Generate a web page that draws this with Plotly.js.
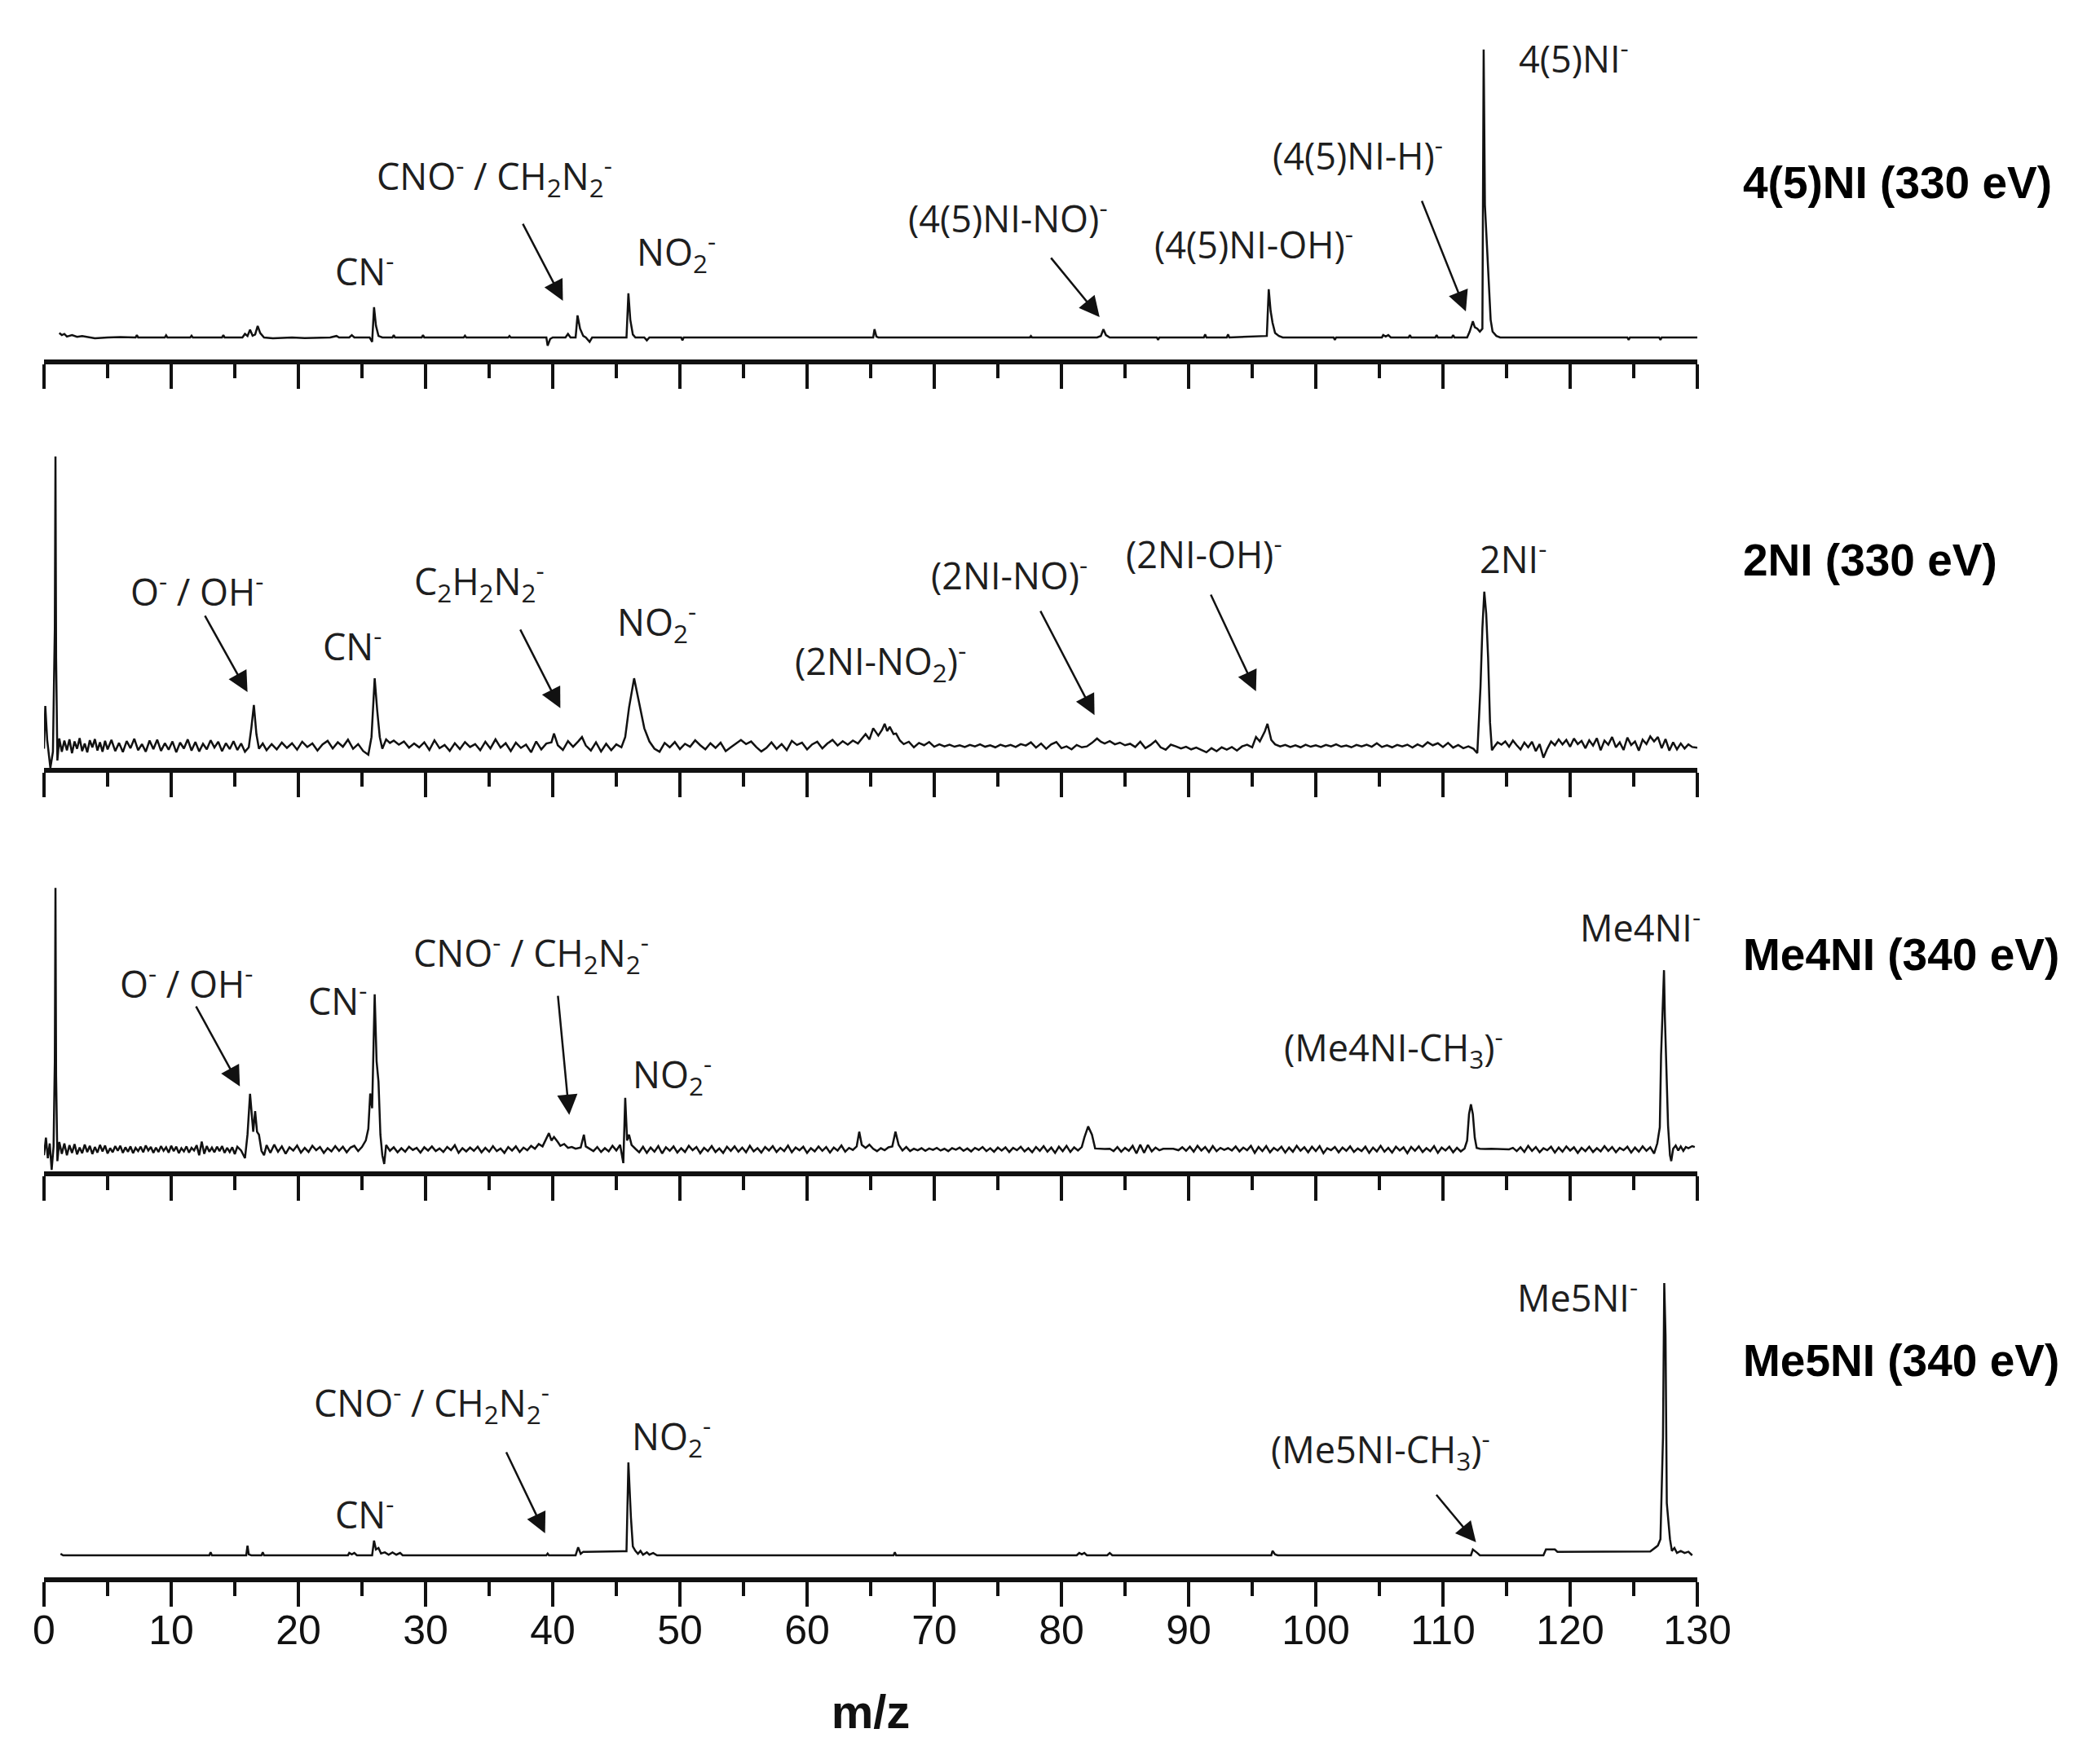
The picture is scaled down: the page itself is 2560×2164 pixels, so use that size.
<!DOCTYPE html>
<html>
<head>
<meta charset="utf-8">
<script src="https://cdn.plot.ly/plotly-3.0.1.min.js"></script>
<style>
  body { margin: 0; background: #fff; }
  #chart { width: 2560px; height: 2164px; }
</style>
</head>
<body>
<div id="chart"></div>
<script>
// spectra as [m/z, intensity] (baseline = 0, strongest peak ~ 100)
var spec45NI = [
  [1.2,1.5],[1.4,0.8],[1.6,1.2],[1.8,0.3],[2.2,0.8],[2.6,0.2],[3.0,0.5],[3.5,0],[4.0,-0.3],[5.0,0],[6.0,0.1],
  [7.2,0],[7.3,0.8],[7.4,0],[9.5,0],[9.6,0.7],[9.7,0],[11.5,0],[11.6,0.6],[11.7,0],[14.0,0],[14.1,0.8],[14.2,0],
  [15.6,0],[15.8,1.2],[16.0,0.5],[16.2,2.6],[16.4,0.6],[16.6,1],[16.8,3.9],[17.0,1.5],[17.3,0],[18.0,-0.3],
  [19.5,0],[20.5,-0.2],[22.5,0],[23.0,0.5],[23.2,0],[24.0,0],[24.2,0.8],[24.4,0],[25.6,0],[25.8,-1.5],
  [25.95,10.3],[26.1,4],[26.3,0.5],[26.6,0],[27.4,0],[27.5,0.8],[27.6,0],[29.7,0],[29.8,0.8],[29.9,0],
  [33.0,0],[33.1,0.6],[33.2,0],[36.5,0],[36.6,0.5],[36.7,0],[39.5,0],[39.6,-2.8],[39.8,-0.5],[40.0,0],
  [41.0,0],[41.2,1.2],[41.4,0],[41.8,0],[41.95,7.5],[42.15,3],[42.4,0.5],[42.6,0],[42.9,-1.5],[43.1,0],
  [45.8,0],[45.95,15],[46.1,6],[46.3,1],[46.5,0],[47.2,0],[47.4,-1],[47.6,0],[50.1,0],[50.2,-1],[50.3,0],
  [65.2,0],[65.3,2.8],[65.45,0.3],[65.6,0],[77.5,0],[77.6,0.5],[77.7,0],[82.8,0],[83.1,0.5],[83.3,2.8],
  [83.5,0.8],[83.8,0],[87.5,0],[87.6,-0.8],[87.7,0],[91.2,0],[91.3,1],[91.4,0],[93.0,0],[93.1,1],[93.2,0],
  [96.15,0.5],[96.3,16.4],[96.45,9],[96.6,5],[96.8,1.5],[97.1,0.5],[97.4,0],[101.4,0],[101.5,-0.8],[101.6,0],
  [105.2,0],[105.3,0.8],[105.5,0.3],[105.7,0.8],[105.9,0],[107.3,0],[107.4,0.8],[107.5,0],[109.4,0],
  [109.5,0.8],[109.6,0],[110.7,0],[110.8,0.8],[110.9,0],[111.9,0],[112.1,2],[112.35,5.5],[112.5,3.5],
  [112.7,3],[112.9,2],[113.1,3],[113.2,98],[113.3,45],[113.45,32],[113.6,20],[113.75,6],[113.9,2],
  [114.2,0.5],[114.5,0],[124.5,0],[124.6,-0.8],[124.7,0],[127.0,0],[127.1,-0.8],[127.2,0],[130,0]
];

var spec2NI = [
  [0.0,-1],[0.1,13.6],[0.25,2],[0.4,-4],[0.5,-7.5],[0.7,-2],[0.85,40],[0.9,98.5],[0.95,30],[1.05,-5],
  [1.2,2.5],[1.4,-2],[1.6,1.8],[1.8,-1.5],[2.0,2.2],[2.2,-2.5],[2.4,1.5],[2.6,-1],[2.8,2.6],[3.0,-1.8],
  [3.2,0.8],[3.4,-2.2],[3.6,1.9],[3.8,-0.5],[4.0,2.3],[4.2,-1.6],[4.4,1.2],[4.6,-2],[4.8,1.7],[5.0,-1.2],
  [5.3,2],[5.6,-1.8],[5.9,1],[6.2,-2.1],[6.5,1.6],[6.8,-0.8],[7.1,2.4],[7.4,-1.5],[7.7,0.6],[8.0,-2],
  [8.3,1.8],[8.6,-1.1],[8.9,2.1],[9.2,-1.7],[9.5,0.9],[9.8,-1.3],[10.1,1.5],[10.4,-2.2],[10.7,1.1],[11.0,-0.9],
  [11.3,2.2],[11.6,-1.6],[11.9,1.3],[12.2,-1.9],[12.5,0.7],[12.8,-1.2],[13.1,1.9],[13.4,-0.6],[13.7,1.4],
  [14.0,-1.8],[14.3,0.9],[14.6,-1.1],[14.9,1.6],[15.2,-1.4],[15.5,0.8],[15.8,-2],[16.1,-0.5],[16.3,6],
  [16.5,13.9],[16.7,4],[16.9,-1],[17.2,0.8],[17.5,-1.5],[17.9,0.6],[18.3,-1.2],[18.7,1.1],[19.1,-0.7],
  [19.5,0.9],[19.9,-1.3],[20.3,1.4],[20.7,-0.4],[21.1,0.8],[21.5,-1.6],[21.9,0.5],[22.3,1.7],[22.7,-0.9],
  [23.1,1.2],[23.5,-0.3],[23.9,2.1],[24.3,-1],[24.7,0.6],[25.1,-1.8],[25.5,-3],[25.75,3],[26.0,23],
  [26.2,12],[26.4,3],[26.6,-1],[26.9,2.2],[27.2,1],[27.5,1.8],[27.9,0.4],[28.3,1.5],[28.7,-0.6],[29.1,0.8],
  [29.5,-0.5],[29.9,1.2],[30.3,-1.4],[30.7,1.9],[31.1,-0.8],[31.5,0.3],[31.9,-1.7],[32.3,0.9],[32.7,-1.1],
  [33.1,1.3],[33.5,-0.4],[33.9,0.6],[34.3,-1.5],[34.7,1.4],[35.1,-0.9],[35.5,2.2],[35.9,-0.6],[36.3,0.9],
  [36.7,-1.8],[37.1,1.1],[37.5,-0.7],[37.9,0.4],[38.3,-2.2],[38.7,1.5],[39.1,-1.2],[39.5,0.8],[39.9,1.2],
  [40.1,4.2],[40.4,0.2],[40.8,-1.4],[41.2,1.6],[41.6,-0.3],[42.0,1.5],[42.3,3],[42.6,0.1],[43.0,-1.6],
  [43.4,1.2],[43.8,-1.9],[44.2,0.7],[44.6,-1.5],[45.0,0.5],[45.4,-0.5],[45.7,3],[46.0,13],[46.4,23],
  [46.8,14],[47.2,6],[47.6,1.5],[48.0,-1],[48.4,-2],[48.8,1],[49.2,-0.5],[49.6,1.3],[50.0,-1.1],[50.4,0.7],
  [50.8,-0.3],[51.2,1.9],[51.6,0.2],[52.0,-1.2],[52.4,0.9],[52.8,-0.7],[53.2,1.1],[53.6,-1.8],[54.0,-0.5],
  [54.4,0.8],[54.8,2],[55.2,0.6],[55.6,1.5],[56.0,-0.4],[56.4,-1.9],[56.8,-0.7],[57.2,1.2],[57.6,-1],
  [58.0,0.6],[58.4,-1.5],[58.8,1.7],[59.2,0.3],[59.6,1.1],[60.0,-1.2],[60.4,0.5],[60.8,1.4],[61.2,-0.9],
  [61.6,0.8],[62.0,2],[62.4,0.1],[62.8,1.6],[63.2,0.4],[63.6,1.8],[64.0,0.8],[64.3,2.5],[64.6,4],[64.9,2.2],
  [65.2,6],[65.6,3.5],[65.9,5.5],[66.1,7.5],[66.3,5],[66.5,6.5],[66.8,4],[67.0,4.2],[67.3,1.8],[67.6,0.6],
  [68.0,1.4],[68.4,-0.5],[68.8,1],[69.2,0.2],[69.6,1.3],[70.0,-0.3],[70.4,0.5],[70.8,-0.2],[71.2,0.4],
  [71.6,-0.3],[72.0,0.2],[72.4,-0.4],[72.8,0.3],[73.2,-0.2],[73.6,0.5],[74.0,-0.3],[74.4,0.2],[74.8,-0.5],
  [75.2,0.4],[75.6,-0.2],[76.0,0.3],[76.4,-0.4],[76.8,0.6],[77.2,0.1],[77.6,1.2],[78.0,-0.6],[78.4,0.8],
  [78.8,-1],[79.2,0.5],[79.6,1.3],[80.0,-0.8],[80.4,-0.2],[80.8,-1.2],[81.2,0.3],[81.6,-0.5],[82.0,-0.2],
  [82.4,1],[82.8,2.5],[83.1,1.4],[83.4,0.8],[83.8,1.6],[84.2,0.5],[84.6,1.1],[85.0,0.2],[85.4,0.7],
  [85.8,-0.4],[86.2,1.4],[86.6,-0.8],[87.0,0.3],[87.4,1.7],[87.8,-0.5],[88.2,-1.3],[88.6,0.4],[89.0,-0.2],
  [89.4,-0.9],[89.8,-0.3],[90.2,-1.2],[90.6,-0.6],[91.0,-1.5],[91.4,-2.2],[91.8,-0.8],[92.2,-1.8],
  [92.6,-0.5],[93.0,-1.3],[93.4,-0.4],[93.8,-1.6],[94.2,-0.2],[94.6,0.4],[95.0,-0.5],[95.3,3],[95.6,1.5],
  [96.0,5],[96.2,7.5],[96.5,2],[96.8,0.5],[97.2,-0.2],[97.6,0.3],[98.0,-0.4],[98.4,0.2],[98.8,-0.5],
  [99.2,0.4],[99.6,-0.3],[100.0,0.2],[100.4,-0.4],[100.8,0.3],[101.2,-0.2],[101.6,0.5],[102.0,-0.3],
  [102.4,0.1],[102.8,-0.5],[103.2,0.3],[103.6,-0.2],[104.0,0.4],[104.4,-0.3],[104.8,0.9],[105.2,-0.4],
  [105.6,0.2],[106.0,-0.5],[106.4,0.3],[106.8,-0.2],[107.2,0.4],[107.6,-0.6],[108.0,0.5],[108.4,-0.3],
  [108.8,1.2],[109.2,0.2],[109.6,0.9],[110.0,-0.4],[110.4,1],[110.8,-0.6],[111.2,0.3],[111.6,-0.8],
  [112.0,-0.2],[112.4,-1],[112.7,-2.5],[112.95,20],[113.1,40],[113.25,52.5],[113.4,45],[113.55,30],
  [113.7,8],[113.85,-1.5],[114.0,-0.5],[114.3,1.2],[114.6,0.4],[114.9,1.5],[115.2,-0.3],[115.5,1.8],
  [115.8,0.2],[116.1,-1.2],[116.4,1.1],[116.7,-0.5],[117.0,1.4],[117.3,-1.8],[117.6,0.6],[117.9,-4],
  [118.2,-1],[118.5,1.5],[118.8,0.2],[119.1,2.2],[119.4,0.5],[119.7,2],[120.0,-0.3],[120.3,2.5],[120.6,0.6],
  [120.9,1.7],[121.2,-0.8],[121.5,1.9],[121.8,0.1],[122.1,2.6],[122.4,-1.5],[122.7,1.8],[123.0,0.4],
  [123.3,3],[123.6,-0.5],[123.9,1.2],[124.2,-1.4],[124.5,2.8],[124.8,0.3],[125.1,1.5],[125.4,-1.6],
  [125.7,2.1],[126.0,0.6],[126.3,3.2],[126.6,1.5],[126.9,3],[127.2,-0.8],[127.5,2.3],[127.8,-1.6],
  [128.1,1.2],[128.4,-1.2],[128.7,0.8],[129.0,-0.9],[129.3,0.5],[129.6,-0.4],[130.0,-0.6]
];

var specMe4NI = [
  [0.0,-2],[0.15,4],[0.3,-3],[0.45,2],[0.6,-7],[0.75,1],[0.85,30],[0.9,89],[0.95,25],[1.05,-4],[1.2,2.5],
  [1.4,-1.5],[1.6,2],[1.8,-2],[2.0,1.4],[2.2,-1.2],[2.4,1.8],[2.6,-1.7],[2.8,0.6],[3.0,-1.3],[3.2,1.6],
  [3.4,-0.9],[3.6,1.2],[3.8,-1.6],[4.0,0.8],[4.2,-1.1],[4.4,1.5],[4.6,-0.7],[4.8,1.3],[5.0,-1.4],[5.2,0.4],
  [5.4,-1],[5.6,1.1],[5.8,-0.5],[6.0,1.2],[6.2,-1.2],[6.4,0.7],[6.6,-0.8],[6.8,1],[7.0,-1.3],[7.2,0.5],
  [7.4,-0.6],[7.6,0.9],[7.8,-1],[8.0,1.3],[8.2,-0.4],[8.4,0.8],[8.6,-1.2],[8.8,0.6],[9.0,-0.9],[9.2,1.1],
  [9.4,-0.5],[9.6,0.7],[9.8,-1.1],[10.0,1.2],[10.2,-0.6],[10.4,0.9],[10.6,-1.3],[10.8,0.4],[11.0,-0.7],
  [11.2,1],[11.4,-1.1],[11.6,0.5],[11.8,-0.4],[12.0,1.4],[12.2,-2],[12.4,2.6],[12.6,-1.5],[12.8,1.1],
  [13.0,-0.8],[13.2,0.6],[13.4,-1],[13.6,0.9],[13.8,-0.6],[14.0,1.1],[14.2,-1.2],[14.4,0.5],[14.6,-0.9],
  [14.8,0.7],[15.0,-1.6],[15.2,0.9],[15.5,-0.4],[15.8,-3],[16.0,5],[16.2,18.9],[16.35,10],[16.45,6],
  [16.6,13],[16.75,6],[16.9,5],[17.1,-0.5],[17.3,-2],[17.5,1.4],[17.8,-1.2],[18.1,1.6],[18.4,-0.8],
  [18.7,1],[19.0,-1.5],[19.3,0.7],[19.6,-0.4],[19.9,1.3],[20.2,-1.1],[20.5,0.5],[20.8,-0.9],[21.1,1.2],
  [21.4,-0.3],[21.7,0.8],[22.0,-1.2],[22.3,0.4],[22.6,-0.7],[22.9,1.1],[23.2,-0.5],[23.5,0.9],[23.8,-1],
  [24.1,0.6],[24.4,1.2],[24.7,-0.6],[25.0,0.8],[25.3,3],[25.5,7],[25.65,19],[25.8,14],[26.0,52.8],
  [26.15,30],[26.3,23],[26.45,5],[26.6,-2],[26.75,-5],[26.9,1.5],[27.2,-0.5],[27.5,0.7],[27.8,-1],
  [28.1,0.4],[28.4,-0.8],[28.7,0.9],[29.0,-0.2],[29.3,0.5],[29.6,-1.1],[29.9,0.7],[30.2,-0.4],[30.5,1],
  [30.8,-0.6],[31.1,0.3],[31.4,-0.9],[31.7,0.8],[32.0,-0.3],[32.3,1.4],[32.6,-1.2],[32.9,0.4],[33.2,-0.7],
  [33.5,0.6],[33.8,-0.5],[34.1,0.9],[34.4,-1],[34.7,0.5],[35.0,-0.8],[35.3,1.1],[35.6,-0.6],[35.9,0.3],
  [36.2,-1.2],[36.5,0.8],[36.8,-0.4],[37.1,1],[37.4,-0.9],[37.7,0.6],[38.0,-0.3],[38.3,1.2],[38.6,0.2],
  [38.9,1.8],[39.2,1],[39.5,3.5],[39.7,5.5],[39.9,3],[40.1,4.2],[40.4,2.5],[40.6,1.2],[40.9,1.8],
  [41.2,0.5],[41.5,0.8],[41.8,0.2],[42.2,0.6],[42.45,5],[42.6,1],[42.9,0.3],[43.2,-0.6],[43.5,0.8],
  [43.8,-0.9],[44.1,0.4],[44.4,-0.7],[44.7,1.2],[45.0,-0.4],[45.3,1.5],[45.55,-4.7],[45.7,17.5],
  [45.85,3],[46.0,5],[46.2,1.5],[46.5,0.2],[46.8,-1],[47.1,0.9],[47.4,-1.2],[47.7,0.6],[48.0,-0.8],
  [48.3,1.1],[48.6,-1.4],[48.9,0.7],[49.2,-0.5],[49.5,1],[49.8,-1.1],[50.1,0.4],[50.4,-0.9],[50.7,1.2],
  [51.0,-0.3],[51.3,0.8],[51.6,-1.3],[51.9,0.5],[52.2,-0.6],[52.5,1.1],[52.8,-0.9],[53.1,0.3],[53.4,-1.2],
  [53.7,0.9],[54.0,-0.5],[54.3,1],[54.6,-0.8],[54.9,0.6],[55.2,-1],[55.5,1.2],[55.8,-0.7],[56.1,0.4],
  [56.4,-1.1],[56.7,0.8],[57.0,-0.4],[57.3,1.1],[57.6,-0.9],[57.9,0.5],[58.2,-0.6],[58.5,1.3],[58.8,-1],
  [59.1,0.6],[59.4,-0.3],[59.7,0.9],[60.0,-1.2],[60.3,0.4],[60.6,-0.7],[60.9,1],[61.2,-0.5],[61.5,0.8],
  [61.8,-1.1],[62.1,0.6],[62.4,-0.4],[62.7,1.3],[63.0,-0.8],[63.3,0.5],[63.6,-0.2],[63.9,1],[64.1,6],
  [64.3,1.5],[64.6,0.5],[64.9,1.6],[65.2,0.2],[65.5,-0.6],[65.8,0.4],[66.1,-0.3],[66.4,0.7],[66.7,1],
  [66.95,6],[67.2,1.5],[67.5,-0.4],[67.8,0.8],[68.1,-0.6],[68.4,0.2],[68.7,-0.3],[69.0,0.4],[69.3,-0.5],
  [69.6,0.3],[69.9,-0.2],[70.2,0.5],[70.5,-0.4],[70.8,0.2],[71.1,-0.6],[71.4,0.4],[71.7,-0.1],[72.0,0.6],
  [72.3,-0.5],[72.6,0.3],[72.9,-0.7],[73.2,0.5],[73.5,-0.2],[73.8,0.8],[74.1,-0.6],[74.4,0.4],[74.7,-0.8],
  [75.0,0.6],[75.3,-0.4],[75.6,0.7],[75.9,-0.9],[76.2,0.5],[76.5,-0.3],[76.8,0.9],[77.1,-0.7],[77.4,0.4],
  [77.7,-1],[78.0,0.8],[78.3,-0.5],[78.6,1.1],[78.9,-0.8],[79.2,0.6],[79.5,-1.2],[79.8,0.9],[80.1,-0.6],
  [80.4,1.2],[80.7,-0.9],[81.0,0.7],[81.3,-0.4],[81.6,0.8],[81.8,4],[82.1,7.8],[82.4,5],[82.65,0.3],
  [83.0,0.2],[83.4,0.1],[83.8,0.2],[84.1,-0.6],[84.4,0.8],[84.7,-0.8],[85.0,0.5],[85.3,-0.5],[85.6,1.2],
  [85.9,-1.4],[86.2,1.6],[86.5,-1.2],[86.8,1.5],[87.1,-0.7],[87.4,0.6],[87.7,-0.3],[88.0,0.2],[88.4,0.1],
  [88.8,0.2],[89.2,-0.3],[89.5,0.7],[89.8,-0.5],[90.1,0.9],[90.4,-0.8],[90.7,1.2],[91.0,-0.4],[91.3,0.8],
  [91.6,-0.9],[91.9,1.1],[92.2,-0.6],[92.5,0.5],[92.8,-0.2],[93.1,0.4],[93.4,-0.4],[93.7,1],[94.0,-0.7],
  [94.3,0.6],[94.6,-0.3],[94.9,1.2],[95.2,-1.2],[95.5,0.8],[95.8,-0.6],[96.1,1.1],[96.4,-1],[96.7,0.5],
  [97.0,-0.4],[97.3,0.9],[97.6,-1.1],[97.9,0.6],[98.2,-0.8],[98.5,1.2],[98.8,-0.5],[99.1,0.7],[99.4,-1],
  [99.7,0.9],[100.0,-0.6],[100.3,1.1],[100.6,-1.3],[100.9,0.4],[101.2,-0.3],[101.5,0.8],[101.8,-1],
  [102.1,0.6],[102.4,-0.5],[102.7,1],[103.0,-0.9],[103.3,0.3],[103.6,-0.6],[103.9,0.9],[104.2,-1.2],
  [104.5,0.6],[104.8,-0.7],[105.1,1.2],[105.4,-0.8],[105.7,0.5],[106.0,-1.1],[106.3,0.9],[106.6,-0.4],
  [106.9,0.7],[107.2,-1.3],[107.5,0.8],[107.8,-0.5],[108.1,1],[108.4,-0.9],[108.7,0.4],[109.0,-0.6],
  [109.3,1.1],[109.6,-1.2],[109.9,0.6],[110.2,-0.4],[110.5,0.9],[110.8,-1],[111.1,0.5],[111.4,-0.7],
  [111.7,0.3],[111.9,3],[112.05,12],[112.2,15.3],[112.35,12],[112.5,4],[112.65,0.5],[112.9,0.2],
  [113.3,0.1],[113.8,0.2],[114.3,0.1],[114.8,0.1],[115.2,0],[115.5,0.5],[115.8,-0.6],[116.1,0.7],
  [116.4,-0.9],[116.7,1.2],[117.0,-0.5],[117.3,0.8],[117.6,-1],[117.9,0.4],[118.2,-0.3],[118.5,0.9],
  [118.8,-1.1],[119.1,0.6],[119.4,-0.8],[119.7,1],[120.0,-0.4],[120.3,0.7],[120.6,-1.2],[120.9,0.5],
  [121.2,-0.6],[121.5,0.9],[121.8,-0.9],[122.1,0.4],[122.4,-0.7],[122.7,1.1],[123.0,-0.5],[123.3,0.8],
  [123.6,-1],[123.9,0.5],[124.2,-0.3],[124.5,0.9],[124.8,-1.1],[125.1,0.6],[125.4,-0.8],[125.7,1],
  [126.0,-0.5],[126.3,0.7],[126.6,-1.4],[126.85,2],[127.05,7.5],[127.15,32],[127.3,55],[127.38,61],
  [127.45,45],[127.55,30],[127.7,8],[127.85,-2],[127.95,-4],[128.1,0.2],[128.3,1.3],[128.5,-0.4],
  [128.7,1],[128.9,-0.5],[129.1,0.8],[129.3,0.4],[129.6,1.1],[129.8,0.8]
];

var specMe5NI = [
  [1.3,0.5],[1.5,0],[5.0,0],[10.0,0],[13.0,0],[13.1,1],[13.2,0],[15.9,0],[16.0,3.3],[16.1,0.3],[16.3,0],
  [17.1,0],[17.2,1],[17.3,0],[23.9,0],[24.0,0.8],[24.2,0.3],[24.4,0.8],[24.6,0],[25.8,0],[25.95,5],
  [26.1,2],[26.3,2.5],[26.5,0.6],[26.8,1],[27.1,0.2],[27.4,1],[27.7,0.2],[28.0,0.8],[28.2,0],[39.5,0],
  [39.6,0.6],[39.7,0],[41.8,0],[42.0,2.7],[42.2,0.5],[42.4,1.2],[42.6,1.2],[45.8,1.4],[45.95,31.6],
  [46.05,20],[46.15,12.8],[46.3,3],[46.5,1.5],[46.7,0.5],[46.9,1.5],[47.1,0.2],[47.4,1],[47.6,0.2],
  [47.9,0.8],[48.2,0],[66.8,0],[66.9,1],[67.0,0],[81.2,0],[81.4,0.8],[81.6,0.3],[81.8,0.8],[82.0,0],
  [83.6,0],[83.8,0.8],[84.0,0],[96.5,0],[96.6,1.5],[96.8,0.3],[97.0,0],[112.2,0],[112.35,2],[112.7,0.8],
  [112.9,0],[117.9,0],[118.1,2],[118.8,2],[119.0,1.2],[126.3,1.3],[126.9,3.3],[127.1,5.5],[127.3,40],
  [127.4,92.7],[127.5,75],[127.6,17.8],[127.7,12],[127.85,5.5],[128.0,1.5],[128.2,2.5],[128.4,0.8],
  [128.7,1.5],[129.0,0.8],[129.3,1.2],[129.6,0]
];

var panelSpectra = [spec45NI, spec2NI, specMe4NI, specMe5NI];
var panelNames = ['4(5)NI (330 eV)', '2NI (330 eV)', 'Me4NI (340 eV)', 'Me5NI (340 eV)'];
var panelNameY = [52.7, 63.3, 66.3, 66.3];

// peak labels per panel: [text, m/z, intensity]
var labels45NI = [
  ['CN<sup>-</sup>', 25.2, 23.2],
  ['CNO<sup>-</sup> / CH<sub>2</sub>N<sub>2</sub><sup>-</sup>', 35.4, 55],
  ['NO<sub>2</sub><sup>-</sup>', 49.7, 29.3],
  ['(4(5)NI-NO)<sup>-</sup>', 75.8, 41.3],
  ['(4(5)NI-OH)<sup>-</sup>', 95.1, 32.4],
  ['(4(5)NI-H)<sup>-</sup>', 103.3, 62.6],
  ['4(5)NI<sup>-</sup>', 120.3, 95.8]
];
var labels2NI = [
  ['O<sup>-</sup> / OH<sup>-</sup>', 12.0, 53.2],
  ['CN<sup>-</sup>', 24.2, 34.8],
  ['C<sub>2</sub>H<sub>2</sub>N<sub>2</sub><sup>-</sup>', 34.2, 56.2],
  ['NO<sub>2</sub><sup>-</sup>', 48.2, 42.4],
  ['(2NI-NO<sub>2</sub>)<sup>-</sup>', 65.8, 29],
  ['(2NI-NO)<sup>-</sup>', 75.9, 58.8],
  ['(2NI-OH)<sup>-</sup>', 91.2, 66],
  ['2NI<sup>-</sup>', 115.5, 64.4]
];
var labelsMe4NI = [
  ['O<sup>-</sup> / OH<sup>-</sup>', 11.2, 57.2],
  ['CN<sup>-</sup>', 23.1, 51.4],
  ['CNO<sup>-</sup> / CH<sub>2</sub>N<sub>2</sub><sup>-</sup>', 38.3, 67],
  ['NO<sub>2</sub><sup>-</sup>', 49.4, 25.8],
  ['(Me4NI-CH<sub>3</sub>)<sup>-</sup>', 106.1, 34.8],
  ['Me4NI<sup>-</sup>', 125.5, 76.4]
];
var labelsMe5NI = [
  ['CN<sup>-</sup>', 25.2, 14.8],
  ['CNO<sup>-</sup> / CH<sub>2</sub>N<sub>2</sub><sup>-</sup>', 30.5, 52],
  ['NO<sub>2</sub><sup>-</sup>', 49.3, 40.7],
  ['(Me5NI-CH<sub>3</sub>)<sup>-</sup>', 105.1, 36.2],
  ['Me5NI<sup>-</sup>', 120.6, 88.6]
];
var panelLabels = [labels45NI, labels2NI, labelsMe4NI, labelsMe5NI];

// arrows: [tail m/z, tail intensity, head m/z, head intensity]
var arrows45NI = [[37.6, 39.1, 40.8, 12.5], [79.1, 27.5, 83.0, 6.9], [108.3, 46.9, 111.8, 8.9]];
var arrows2NI = [[12.6, 44.7, 16.0, 18.3], [37.4, 40, 40.6, 12.8], [78.3, 46.3, 82.6, 10.5], [91.7, 51.9, 95.3, 18.6]];
var arrowsMe4NI = [[11.9, 49.1, 15.4, 21.4], [40.4, 52.7, 41.3, 11.7]];
var arrowsMe5NI = [[36.3, 35.5, 39.4, 7.5], [109.4, 21, 112.6, 4.4]];
var panelArrows = [arrows45NI, arrows2NI, arrowsMe4NI, arrowsMe5NI];

// layout geometry (pixels in a 2560 x 2164 page)
var W = 2560, H = 2164;
var axisPx = [441, 942, 1437, 1935];
var panelHeight = 400;
var yRange = [-7.5, 103.5];

var labelFont = { family: 'Open Sans, sans-serif', size: 45, color: '#1e1e1e' };
var nameFont = { family: 'Liberation Sans, Arial, sans-serif', size: 55, color: '#000' };

var traces = [];
var layout = {
    width: W,
    height: H,
    margin: { l: 54, r: 478, t: 0, b: 0 },
    paper_bgcolor: '#fff',
    plot_bgcolor: 'rgba(0,0,0,0)',
    showlegend: false,
    annotations: []
};

for (let i = 0; i < 4; i++) {
    let sfx = i === 0 ? '' : String(i + 1);
    let xa = 'x' + sfx, ya = 'y' + sfx;
    let spec = panelSpectra[i];

    traces.push({
        x: spec.map(p => p[0]),
        y: spec.map(p => p[1]),
        xaxis: xa,
        yaxis: ya,
        type: 'scatter',
        mode: 'lines',
        line: { color: '#111', width: 2.5 },
        hoverinfo: 'skip'
    });

    let bottom = 1 - axisPx[i] / H;
    let top = 1 - (axisPx[i] - panelHeight) / H;
    let isLast = i === 3;

    layout['xaxis' + sfx] = {
        domain: [0, 1],
        anchor: ya,
        range: [0, 130],
        showline: true,
        linewidth: 6,
        linecolor: '#111',
        ticks: 'outside',
        ticklen: 30,
        tickwidth: 4,
        tickcolor: '#111',
        tick0: 0,
        dtick: 10,
        minor: { dtick: 5, ticks: 'outside', ticklen: 17, tickwidth: 4, tickcolor: '#111' },
        showgrid: false,
        zeroline: false,
        showticklabels: isLast,
        ticklabelstandoff: -14,
        tickfont: { family: 'Liberation Sans, Arial, sans-serif', size: 50, color: '#111' },
        fixedrange: true
    };
    if (isLast) {
        layout['xaxis' + sfx].title = {
            text: '<b>m/z</b>',
            font: { family: 'Liberation Sans, Arial, sans-serif', size: 58, color: '#111' },
            standoff: 54
        };
    }

    layout['yaxis' + sfx] = {
        domain: [bottom, top],
        anchor: xa,
        range: yRange,
        visible: false,
        fixedrange: true
    };

    panelLabels[i].forEach(function (l) {
        layout.annotations.push({
            text: l[0], x: l[1], y: l[2], xref: xa, yref: ya,
            showarrow: false, xanchor: 'center', yanchor: 'middle', font: labelFont
        });
    });

    panelArrows[i].forEach(function (a) {
        layout.annotations.push({
            text: '', x: a[2], y: a[3], xref: xa, yref: ya,
            ax: a[0], ay: a[1], axref: xa, ayref: ya,
            showarrow: true, arrowhead: 2, arrowsize: 2, arrowwidth: 2.5,
            arrowcolor: '#111', standoff: 0, startstandoff: 0
        });
    });

    layout.annotations.push({
        text: '<b>' + panelNames[i] + '</b>',
        x: 1.0266, y: panelNameY[i], xref: 'paper', yref: ya,
        showarrow: false, xanchor: 'left', yanchor: 'middle', font: nameFont
    });
}

Plotly.newPlot('chart', traces, layout, { staticPlot: true, displayModeBar: false });
</script>
</body>
</html>
